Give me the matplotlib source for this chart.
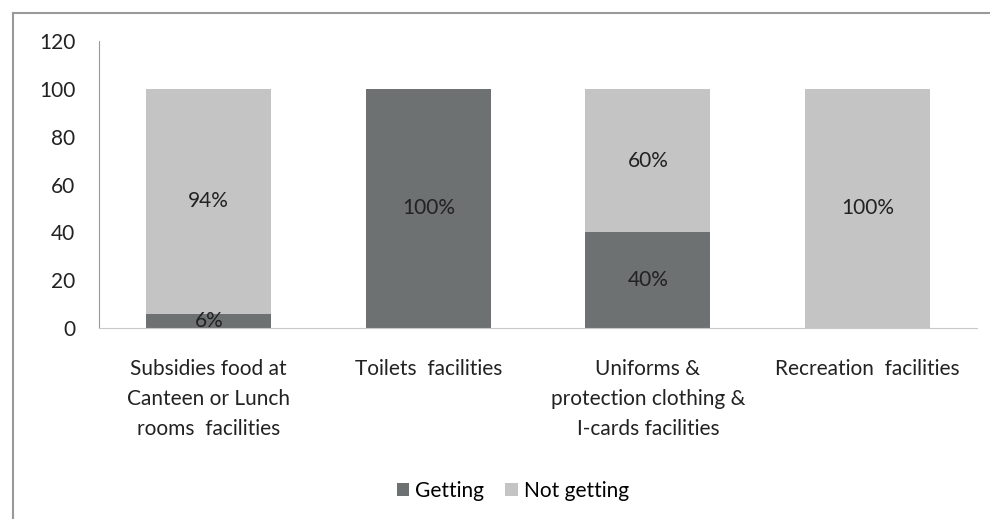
import matplotlib
matplotlib.use('Agg')
import matplotlib.pyplot as plt
from matplotlib.lines import Line2D

plt.rcParams['font.family'] = ['Lato', 'DejaVu Sans']

categories = ['Subsidies food at\nCanteen or Lunch\nrooms  facilities',
              'Toilets  facilities',
              'Uniforms &\nprotection clothing &\nI-cards facilities',
              'Recreation  facilities']
getting = [6, 100, 40, 0]
not_getting = [94, 0, 60, 100]

dark = '#6d7171'
light = '#c4c4c4'
fs = 15

fig = plt.figure(figsize=(9.9, 5.19), dpi=100)
ax = fig.add_axes([0.1, 0.368, 0.887, 0.553])

x = range(len(categories))
b1 = ax.bar(x, getting, width=0.57, color=dark, label='Getting')
b2 = ax.bar(x, not_getting, width=0.57, bottom=getting, color=light, label='Not getting')

# value labels in the middle of each non-empty segment
for i in x:
    if getting[i] > 0:
        ax.text(i, getting[i] / 2, '%d%%' % getting[i], ha='center', va='center',
                fontsize=fs, color='#222222')
    if not_getting[i] > 0:
        ax.text(i, getting[i] + not_getting[i] / 2, '%d%%' % not_getting[i],
                ha='center', va='center', fontsize=fs, color='#222222')

ax.set_xlim(-0.5, 3.5)
ax.set_ylim(0, 120)
ax.set_yticks(range(0, 121, 20))
ax.set_xticks(list(x))
ax.set_xticklabels(categories, fontsize=fs, color='#222222', linespacing=1.65)
ax.tick_params(axis='y', length=0, pad=17, labelsize=fs, labelcolor='#222222')
ax.tick_params(axis='x', length=0, pad=22)

for s in ['top', 'right']:
    ax.spines[s].set_visible(False)
ax.spines['left'].set_color('#999999')
ax.spines['bottom'].set_color('#c8c8c8')

fig.legend(handles=[b1, b2], loc='center', bbox_to_anchor=(0.518, 0.054),
           ncol=2, frameon=False, fontsize=fs, handlelength=0.6, handleheight=0.6,
           handletextpad=0.3, columnspacing=1.0)

# outer chart border (top and left edges)
fig.add_artist(Line2D([13 / 990, 1], [1 - 13 / 519] * 2, color='#999999', lw=1.5,
                      transform=fig.transFigure))
fig.add_artist(Line2D([13 / 990] * 2, [0, 1 - 13 / 519], color='#999999', lw=1.5,
                      transform=fig.transFigure))

fig.savefig('out.png', dpi=100)
